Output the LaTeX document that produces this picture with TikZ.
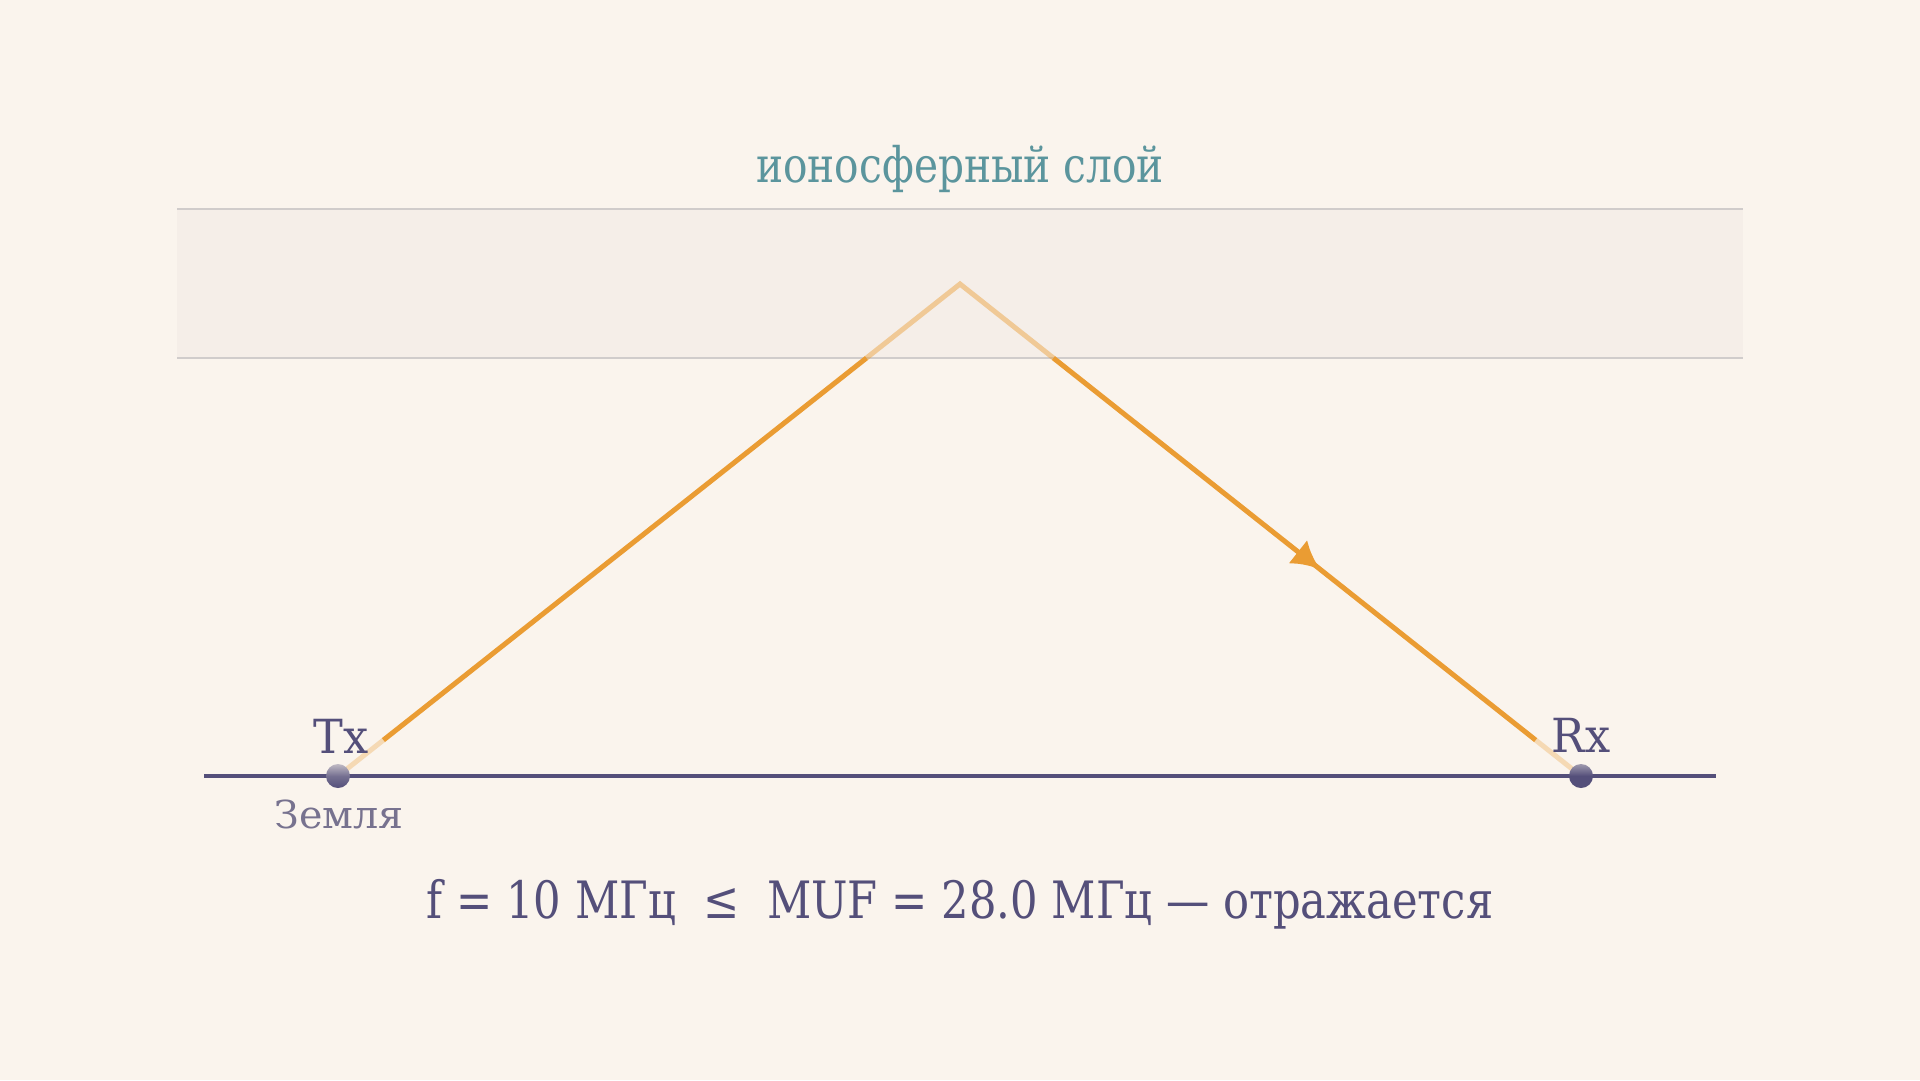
\documentclass[tikz,border=0pt]{standalone}
\usepackage{fontspec}
\setmainfont{DejaVu Serif}
\newfontfamily\infofont[FakeStretch=0.84]{DejaVu Serif}
\newfontfamily\ionofont[FakeStretch=0.83]{DejaVu Serif}
\newfontfamily\stafont[FakeStretch=0.95]{DejaVu Serif}
\newfontfamily\earthfont[FakeStretch=1.03]{DejaVu Serif}
\usetikzlibrary{arrows.meta,decorations.markings,calc}
\definecolor{bgc}{HTML}{FAF4ED}
\definecolor{bandc}{HTML}{F5EEE8}
\definecolor{bandline}{HTML}{D0CCCB}
\definecolor{teal}{HTML}{5B959D}
\definecolor{ink}{HTML}{544F7A}
\definecolor{inklight}{HTML}{77728F}
\definecolor{ray}{HTML}{EA9C33}
\tikzset{
  raysolid/.style={draw=ray,line width=5pt},
  rayband/.style={draw=ray,line width=5pt,draw opacity=0.45,line join=miter},
  rayfade/.style={draw=ray,line width=5pt,draw opacity=0.3},
  station/.style={circle,minimum size=24pt,inner sep=0pt,bottom color=ink,shading angle=0},
  lbl/.style={text=ink,font=\stafont\fontsize{47}{50}\selectfont,anchor=base},
}
\begin{document}
\begin{tikzpicture}[x=1pt,y=-1pt]
\useasboundingbox (0,0) rectangle (1920,1080);
\fill[bgc] (0,0) rectangle (1920,1080);
% ionosphere band
\fill[bandc] (177,209) rectangle (1743,358);
\draw[bandline,line width=2pt] (177,209) coordinate (bandTL) -- (1743,209) coordinate (bandTR);
\draw[bandline,line width=2pt] (177,358) coordinate (bandBL) -- (1743,358) coordinate (bandBR);
\node[text=teal,font=\ionofont\fontsize{49}{54}\selectfont,anchor=base] (iono) at (960,182) {ионосферный слой};
% ground
\coordinate (gL) at (204,776);
\coordinate (gR) at (1716,776);
\draw[ink,line width=3.8pt] (gL) -- (gR);
\coordinate (tx) at (338,776);
\coordinate (apex) at (960,284);
\coordinate (rx) at (1581,776);
\coordinate (inL) at ($(tx)!0.8496!(apex)$);
\coordinate (inR) at ($(rx)!0.8496!(apex)$);
\coordinate (fL) at ($(tx)!0.073!(apex)$);
\coordinate (fR) at ($(rx)!0.073!(apex)$);
% ray
\draw[rayband] (inL) -- (apex) -- (inR);
\draw[raysolid] (fL) -- (inL);
\draw[raysolid,postaction={decorate},decoration={markings,mark=at position 0.553 with {\arrow{Latex[length=28pt,width=30pt]}}}] (inR) -- (fR);
\draw[rayfade] (tx) -- (fL);
\draw[rayfade] (rx) -- (fR);
% stations
\node[station,top color=ink!35!bgc,middle color=ink!80!bgc] (txd) at (tx) {};
\node[station,top color=ink!55!bgc,middle color=ink] (rxd) at (rx) {};
\node[lbl] (txl) at (341,753) {Tx};
\node[lbl] (rxl) at (1581,752) {Rx};
\node[text=inklight,font=\earthfont\fontsize{38.5}{44}\selectfont,anchor=base] (earth) at (339,828) {Земля};
\node[text=ink,font=\infofont\fontsize{51.5}{56}\selectfont,anchor=base] (info) at (960,918) {f = 10 МГц\ \ ≤\ \ MUF = 28.0 МГц — отражается};
\end{tikzpicture}
\end{document}
